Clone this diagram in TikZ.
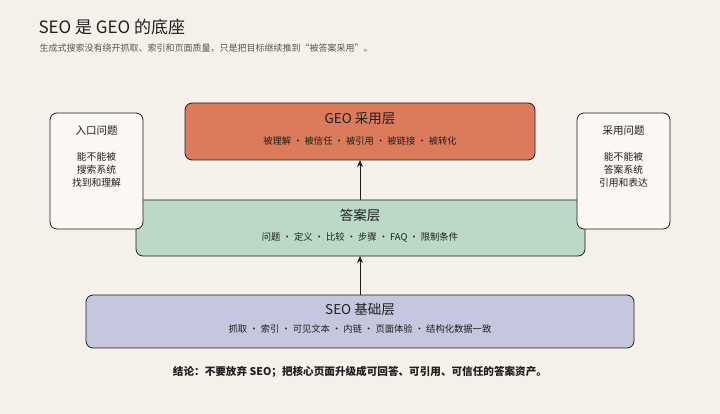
\documentclass[tikz,border=0pt]{standalone}
\usepackage{fontspec}
\setmainfont{Noto Sans CJK SC}
\usetikzlibrary{arrows.meta}
\definecolor{bg}{HTML}{F5F1EA}
\definecolor{geo}{HTML}{DB7B5C}
\definecolor{ans}{HTML}{BCD8C6}
\definecolor{seo}{HTML}{C6C6DE}
\definecolor{side}{HTML}{FBF8F3}
\definecolor{txt}{HTML}{1E1E1E}
\definecolor{sub}{HTML}{555555}
\begin{document}
\begin{tikzpicture}[x=1pt,y=-1pt,
  layer/.style={draw=txt,line width=0.8pt,rounded corners=7pt},
  sidebox/.style={draw=txt,line width=0.8pt,rounded corners=7pt,fill=side},
  ttl/.style={font=\fontsize{13.5}{16}\selectfont,text=txt},
  subt/.style={font=\fontsize{9.3}{11}\selectfont,text=txt},
  arr/.style={-{Stealth[length=7pt,width=6pt]},line width=1pt,draw=txt}]
\fill[bg] (0,0) rectangle (720,414);
\node[anchor=west,font=\fontsize{17}{20}\selectfont,text=txt] (title) at (35,27) {SEO 是 GEO 的底座};
\node[anchor=west,font=\fontsize{9}{11}\selectfont,text=sub] (subtitle) at (36,48) {生成式搜索没有绕开抓取、索引和页面质量，只是把目标继续推到“被答案采用”。};
\draw[layer,fill=geo] (185,103) rectangle (535,160);
\node[ttl] (geot) at (360,119) {GEO 采用层};
\node[subt] (geos) at (360,141) {被理解 · 被信任 · 被引用 · 被链接 · 被转化};
\coordinate (geob) at (360,160);
\draw[layer,fill=ans] (136,200) rectangle (585,256);
\node[ttl] (anst) at (360,215) {答案层};
\node[subt] (anss) at (360,237) {问题 · 定义 · 比较 · 步骤 · FAQ · 限制条件};
\coordinate (anstop) at (360,200);
\coordinate (ansb) at (360,256);
\draw[layer,fill=seo] (86,295) rectangle (634,348);
\node[ttl] (seot) at (360,309) {SEO 基础层};
\node[subt] (seos) at (360,329) {抓取 · 索引 · 可见文本 · 内链 · 页面体验 · 结构化数据一致};
\coordinate (seotop) at (360,295);
\draw[sidebox] (50,113) rectangle (143,229);
\node[subt,font=\fontsize{10.5}{12}\selectfont] (lt) at (96.5,131) {入口问题};
\node[subt,align=center,font=\fontsize{9.8}{13}\selectfont] (lb) at (96.5,170) {能不能被\\搜索系统\\找到和理解};
\draw[sidebox] (577,113) rectangle (670,229);
\node[subt,font=\fontsize{10.5}{12}\selectfont] (rt) at (623.5,131) {采用问题};
\node[subt,align=center,font=\fontsize{9.8}{13}\selectfont] (rb) at (623.5,170) {能不能被\\答案系统\\引用和表达};
\draw[arr] (anstop) -- (geob);
\draw[arr] (seotop) -- (ansb);
\node[font=\fontsize{10.6}{12}\selectfont\bfseries,text=txt] (concl) at (360,372) {结论：不要放弃 SEO；把核心页面升级成可回答、可引用、可信任的答案资产。};
\end{tikzpicture}
\end{document}
